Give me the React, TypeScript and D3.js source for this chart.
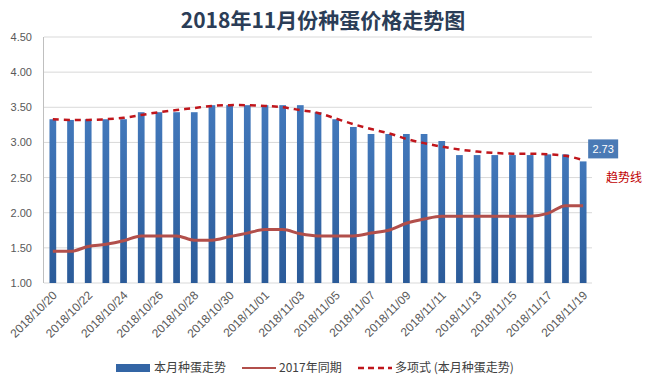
import { useEffect, useRef } from "react"
import * as d3 from "d3"

const dates = [
  "2018/10/20", "2018/10/21", "2018/10/22", "2018/10/23", "2018/10/24", "2018/10/25",
  "2018/10/26", "2018/10/27", "2018/10/28", "2018/10/29", "2018/10/30", "2018/10/31",
  "2018/11/01", "2018/11/02", "2018/11/03", "2018/11/04", "2018/11/05", "2018/11/06",
  "2018/11/07", "2018/11/08", "2018/11/09", "2018/11/10", "2018/11/11", "2018/11/12",
  "2018/11/13", "2018/11/14", "2018/11/15", "2018/11/16", "2018/11/17", "2018/11/18",
  "2018/11/19",
]

// 本月种蛋走势
const current = [
  3.33, 3.32, 3.33, 3.33, 3.33, 3.43, 3.43, 3.43, 3.43, 3.53, 3.53, 3.53, 3.53, 3.53, 3.53, 3.43,
  3.33, 3.22, 3.12, 3.12, 3.12, 3.12, 3.02, 2.82, 2.82, 2.82, 2.82, 2.82, 2.83, 2.83, 2.73,
]

// 2017年同期
const lastYear = [
  1.45, 1.45, 1.52, 1.55, 1.6, 1.67, 1.67, 1.67, 1.61, 1.61, 1.66, 1.71, 1.76, 1.76, 1.7, 1.67,
  1.67, 1.67, 1.71, 1.75, 1.85, 1.91, 1.95, 1.95, 1.95, 1.95, 1.95, 1.95, 1.99, 2.1, 2.1,
]

// 多项式 (本月种蛋走势)
const trend = [
  3.33, 3.32, 3.32, 3.33, 3.35, 3.39, 3.43, 3.46, 3.49, 3.52, 3.53, 3.53, 3.52, 3.5, 3.46, 3.42,
  3.34, 3.26, 3.19, 3.13, 3.05, 2.99, 2.94, 2.9, 2.87, 2.85, 2.84, 2.84, 2.83, 2.81, 2.75,
]

const yTicks = [1, 1.5, 2, 2.5, 3, 3.5, 4, 4.5]

const W = 645
const H = 385
const margin = { left: 44, right: 53, top: 37, bottom: 102 }

export default function App() {
  const svgRef = useRef<SVGSVGElement>(null)

  useEffect(() => {
    if (!svgRef.current) return
    const root = d3.select(svgRef.current)
    root.selectAll("*").remove()

    const defs = root.append("defs")
    const grad = defs
      .append("linearGradient")
      .attr("id", "barGrad")
      .attr("x1", 0)
      .attr("x2", 0)
      .attr("y1", 0)
      .attr("y2", 1)
    grad.append("stop").attr("offset", "0%").attr("stop-color", "#4278bb")
    grad.append("stop").attr("offset", "100%").attr("stop-color", "#2b5b99")

    const x = d3
      .scaleBand()
      .domain(dates)
      .range([margin.left, W - margin.right])
      .paddingInner(0.62)
      .paddingOuter(0.31)

    const y = d3
      .scaleLinear()
      .domain([1, 4.5])
      .range([H - margin.bottom, margin.top])

    // title
    root
      .append("text")
      .attr("x", 323)
      .attr("y", 28)
      .attr("text-anchor", "middle")
      .attr("font-family", "'Noto Sans CJK SC', sans-serif")
      .attr("font-weight", "bold")
      .attr("font-size", 21)
      .attr("fill", "#2b3d57")
      .text("2018年11月份种蛋价格走势图")

    // gridlines
    root
      .append("g")
      .selectAll("line")
      .data(yTicks)
      .enter()
      .append("line")
      .attr("x1", margin.left)
      .attr("x2", W - margin.right)
      .attr("y1", (d) => y(d))
      .attr("y2", (d) => y(d))
      .attr("stroke", "#d9d9d9")
      .attr("stroke-width", 1)

    // left axis line
    root
      .append("line")
      .attr("x1", margin.left - 0.5)
      .attr("x2", margin.left - 0.5)
      .attr("y1", y(4.5))
      .attr("y2", y(1))
      .attr("stroke", "#bfbfbf")

    // y labels
    root
      .append("g")
      .selectAll("text")
      .data(yTicks)
      .enter()
      .append("text")
      .attr("x", 32)
      .attr("y", (d) => y(d) + 4)
      .attr("text-anchor", "end")
      .attr("font-family", "'Liberation Sans', sans-serif")
      .attr("font-size", 11)
      .attr("fill", "#595959")
      .text((d) => d.toFixed(2))

    // bars
    root
      .append("g")
      .selectAll("rect")
      .data(current)
      .enter()
      .append("rect")
      .attr("x", (d, i) => x(dates[i]) || 0)
      .attr("y", (d) => y(d))
      .attr("width", x.bandwidth())
      .attr("height", (d) => y(1) - y(d))
      .attr("fill", "url(#barGrad)")

    const cx = (i: number) => (x(dates[i]) || 0) + x.bandwidth() / 2

    // 2017 line
    const line = d3
      .line<number>()
      .x((d, i) => cx(i))
      .y((d) => y(d))
      .curve(d3.curveMonotoneX)

    root
      .append("path")
      .datum(lastYear)
      .attr("d", line)
      .attr("fill", "none")
      .attr("stroke", "#b24f4b")
      .attr("stroke-width", 3)

    // trend line
    const tline = d3
      .line<number>()
      .x((d, i) => cx(i))
      .y((d) => y(d))
      .curve(d3.curveCatmullRom)

    root
      .append("path")
      .datum(trend)
      .attr("d", tline)
      .attr("fill", "none")
      .attr("stroke", "#c0161c")
      .attr("stroke-width", 2.5)
      .attr("stroke-dasharray", "6,5")

    // x labels
    root
      .append("g")
      .selectAll("text")
      .data(dates.filter((d, i) => i % 2 === 0))
      .enter()
      .append("text")
      .attr("transform", (d) => {
        const px = (x(d) || 0) + x.bandwidth() / 2 + 5
        return `translate(${px},${y(1) + 13}) rotate(-45)`
      })
      .attr("text-anchor", "end")
      .attr("font-family", "'Liberation Sans', sans-serif")
      .attr("font-size", 12)
      .attr("fill", "#595959")
      .text((d) => d)

    // data label on the last bar
    const last = current.length - 1
    const lx = cx(last) + 5
    const ly = y(current[last]) - 22
    root
      .append("rect")
      .attr("x", lx)
      .attr("y", ly)
      .attr("width", 30)
      .attr("height", 19)
      .attr("fill", "#4a7ab5")
    root
      .append("text")
      .attr("x", lx + 15)
      .attr("y", ly + 14)
      .attr("text-anchor", "middle")
      .attr("font-family", "'Liberation Sans', sans-serif")
      .attr("font-size", 11)
      .attr("fill", "#ffffff")
      .text(current[last].toFixed(2))

    root
      .append("text")
      .attr("x", 606)
      .attr("y", 182)
      .attr("font-family", "'Noto Sans CJK SC', sans-serif")
      .attr("font-size", 12)
      .attr("fill", "#c00000")
      .text("趋势线")

    // legend
    const lg = root.append("g").attr("font-family", "'Noto Sans CJK SC', sans-serif").attr("font-size", 12).attr("fill", "#404040")
    const ly2 = 368
    lg.append("rect").attr("x", 116).attr("y", ly2 - 4).attr("width", 34).attr("height", 8).attr("fill", "#3365a5")
    lg.append("text").attr("x", 154).attr("y", ly2 + 4).text("本月种蛋走势")
    lg.append("line").attr("x1", 242).attr("x2", 276).attr("y1", ly2).attr("y2", ly2).attr("stroke", "#b24f4b").attr("stroke-width", 2)
    lg.append("text").attr("x", 279).attr("y", ly2 + 4).text("2017年同期")
    lg.append("line").attr("x1", 358).attr("x2", 392).attr("y1", ly2).attr("y2", ly2).attr("stroke", "#c0161c").attr("stroke-width", 2.5).attr("stroke-dasharray", "6,4")
    lg.append("text").attr("x", 395).attr("y", ly2 + 4).text("多项式 (本月种蛋走势)")
  }, [])

  return (
    <div>
      <style>{`body{margin:0;background:#fff}`}</style>
      <svg ref={svgRef} width={W} height={H} style={{ display: "block" }}></svg>
    </div>
  )
}
